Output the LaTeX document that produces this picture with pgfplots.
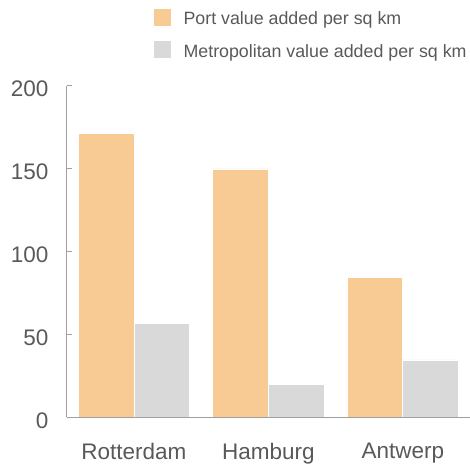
\documentclass[border=0pt]{standalone}
\usepackage{pgfplots}
\pgfplotsset{compat=1.18}
\usepackage{fontspec}
\setmainfont{Liberation Sans}
\definecolor{portc}{HTML}{F9CB94}
\definecolor{metroc}{HTML}{D9D9D9}
\definecolor{axc}{HTML}{A0A0A0}
\definecolor{txt}{HTML}{595959}
\begin{document}
\begin{tikzpicture}
\useasboundingbox (0,0) rectangle (470pt,468pt);
\begin{axis}[
  at={(66.7pt,50.7pt)}, anchor=south west,
  scale only axis, width=403.3pt, height=331.6pt,
  xmin=-0.5, xmax=2.5, ymin=0, ymax=200,
  axis lines*=left,
  axis on top,
  axis line style={axc, line width=0.8pt},
  xtick={0,1,2}, xticklabels={Rotterdam,Hamburg,Antwerp},
  x tick style={draw=none},
  ytick={0,50,100,150,200},
  y tick style={axc, line width=0.8pt},
  tick align=inside, major tick length=5pt,
  /pgf/number format/assume math mode=true,
  yticklabel style={anchor=east, inner sep=0pt, xshift=-18pt, yshift=-3pt, font=\fontsize{22.5}{27}\selectfont, text=txt},
  xticklabel style={anchor=north, inner sep=0pt, yshift=-26pt, font=\fontsize{22.5}{27}\selectfont, text=txt},
  bar width=0.415,
  legend style={draw=none, fill=none, at={(0.2132,1.2353)}, anchor=north west, inner sep=0pt, outer sep=0pt,
    font=\fontsize{17.8}{20}\selectfont, text=txt, column sep=12pt, row sep=14pt, nodes={inner sep=0pt}},
  legend cell align=left,
  legend image code/.code={\fill[#1] (0pt,-7pt) rectangle (18.3pt,11pt);},
]
\addplot[ybar, bar shift=-0.2075, fill=portc, draw=white, line width=0.6pt] coordinates {(0,171.3) (1,149.8) (2,84.4)};
\addplot[ybar, bar shift=0.2075, fill=metroc, draw=white, line width=0.6pt] coordinates {(0,56.7) (1,19.7) (2,34.6)};
\legend{Port value added per sq km, Metropolitan value added per sq km}
\end{axis}
\end{tikzpicture}
\end{document}
